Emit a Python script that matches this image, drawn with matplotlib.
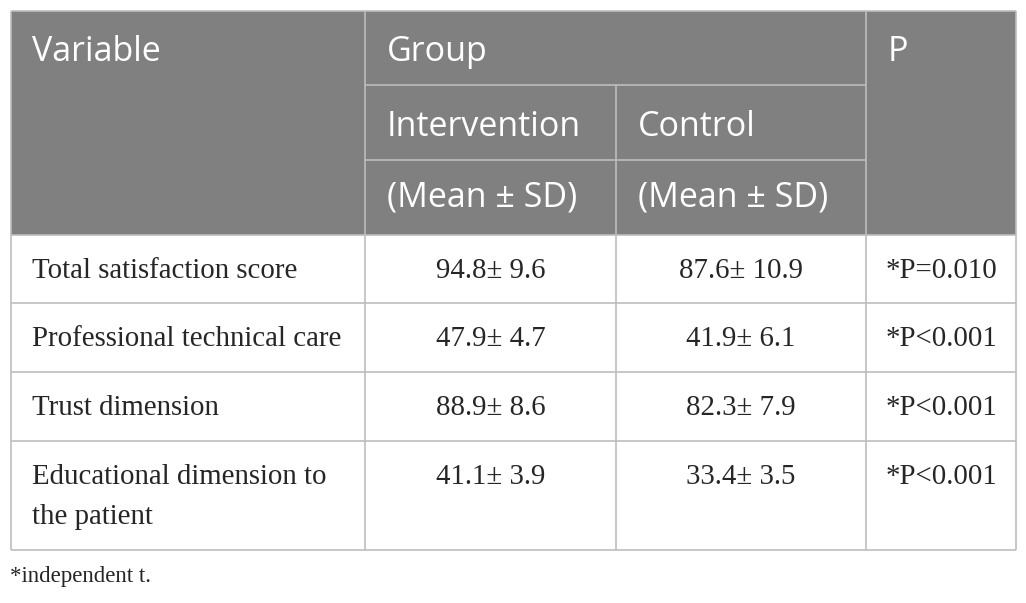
import matplotlib.pyplot as plt
from matplotlib.patches import Rectangle

# table content
variables = ["Total satisfaction score", "Professional technical care",
             "Trust dimension", "Educational dimension to\nthe patient"]
intervention = ["94.8\u00b1 9.6", "47.9\u00b1 4.7", "88.9\u00b1 8.6", "41.1\u00b1 3.9"]
control = ["87.6\u00b1 10.9", "41.9\u00b1 6.1", "82.3\u00b1 7.9", "33.4\u00b1 3.5"]
p_values = ["*P=0.010", "*P<0.001", "*P<0.001", "*P<0.001"]
footnote = "*independent t."

# layout in pixels
col_x = [11, 365, 616, 866, 1016]
head_y = [11, 85, 160, 235]
row_y = [235, 303, 372, 441, 550]

head_bg = "#808080"
line_c = "#bdbdbd"
text_c = "#262626"
head_font = "Open Sans"
body_font = "Liberation Serif"

fig = plt.figure(figsize=(10.26, 6.03), dpi=100)
ax = fig.add_axes([0, 0, 1, 1])
ax.set_xlim(0, 1026)
ax.set_ylim(603, 0)
ax.axis("off")

# header background
ax.add_patch(Rectangle((col_x[0], head_y[0]), col_x[-1] - col_x[0], head_y[-1] - head_y[0],
                       facecolor=head_bg, edgecolor="none"))

def hline(x0, x1, y):
    ax.plot([x0, x1], [y, y], color=line_c, lw=1.2, solid_capstyle="butt")

def vline(x, y0, y1):
    ax.plot([x, x], [y0, y1], color=line_c, lw=1.2, solid_capstyle="butt")

# header grid
hline(col_x[1], col_x[3], head_y[1])
hline(col_x[1], col_x[3], head_y[2])
vline(col_x[1], head_y[0], head_y[3])
vline(col_x[2], head_y[1], head_y[3])
vline(col_x[3], head_y[0], head_y[3])

# body grid
for y in row_y:
    hline(col_x[0], col_x[-1], y)
for x in col_x:
    vline(x, row_y[0], row_y[-1])
# outer border
hline(col_x[0], col_x[-1], head_y[0])
vline(col_x[0], head_y[0], head_y[3])
vline(col_x[-1], head_y[0], head_y[3])

hs = 24.5
def head(x, y, s):
    ax.text(x, y, s, color="white", fontsize=hs, family=head_font, va="baseline")

head(32, 61, "Variable")
head(387, 61, "Group")
head(888, 61, "P")
head(387, 136, "Intervention")
head(638, 136, "Control")
head(387, 207, "(Mean \u00b1 SD)")
head(638, 207, "(Mean \u00b1 SD)")

bs = 20.8
line_gap = 40
for i in range(len(variables)):
    base = row_y[i] + 43
    for k, part in enumerate(variables[i].split("\n")):
        ax.text(32, base + k * line_gap, part, color=text_c, fontsize=bs,
                family=body_font, va="baseline")
    ax.text((col_x[1] + col_x[2]) / 2, base, intervention[i], color=text_c, fontsize=bs,
            family=body_font, va="baseline", ha="center")
    ax.text((col_x[2] + col_x[3]) / 2, base, control[i], color=text_c, fontsize=bs,
            family=body_font, va="baseline", ha="center")
    ax.text((col_x[3] + col_x[4]) / 2, base, p_values[i], color=text_c, fontsize=bs,
            family=body_font, va="baseline", ha="center")

ax.text(10, 582, footnote, color=text_c, fontsize=16.5, family=body_font, va="baseline")

fig.savefig("out.png", dpi=100, facecolor="white")
